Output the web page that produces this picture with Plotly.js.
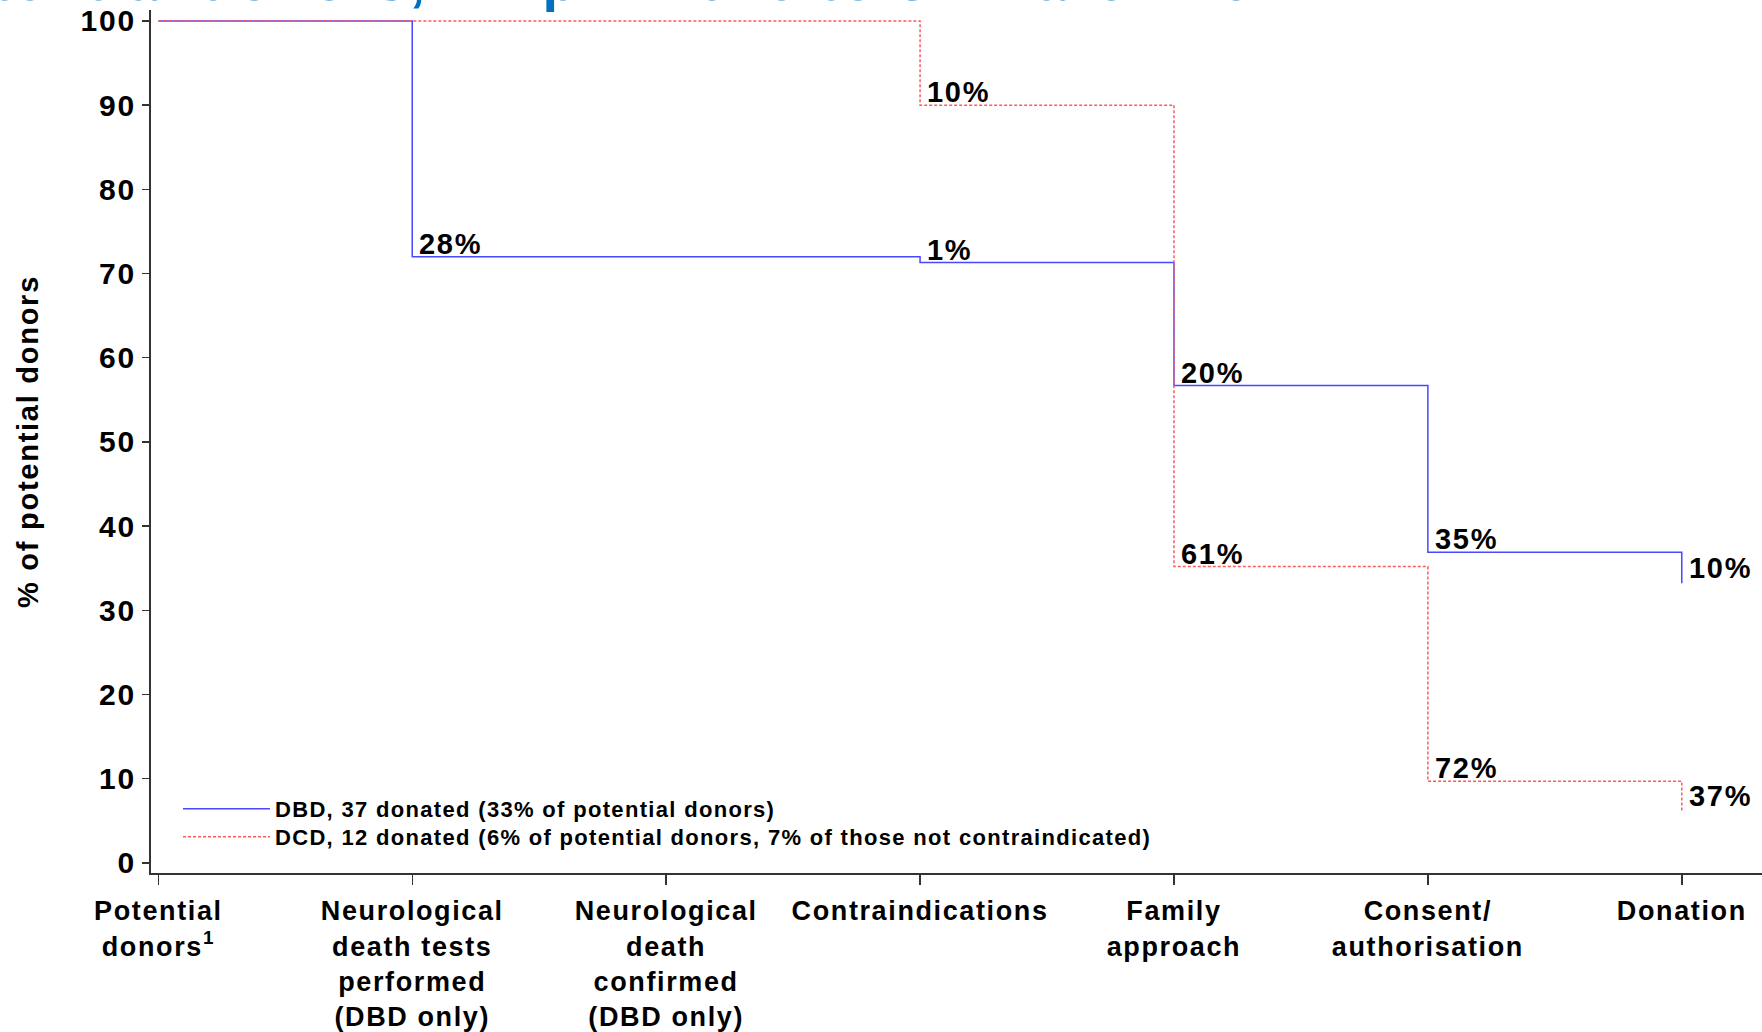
<!DOCTYPE html>
<html>
<head>
<meta charset="utf-8">
<script src="https://cdn.plot.ly/plotly-3.0.1.min.js"></script>
<style>
html,body{margin:0;padding:0;background:#fff;}
#chart{width:1762px;height:1032px;}
svg text{letter-spacing:0.06em;}
</style>
</head>
<body>
<div id="chart"></div>
<script>
// ---- data ----
const stages = ["Potential<br>donors<sup>1</sup>", "Neurological<br>death tests<br>performed<br>(DBD only)",
  "Neurological<br>death<br>confirmed<br>(DBD only)", "Contraindications", "Family<br>approach",
  "Consent/<br>authorisation", "Donation"];
const stageIndex = [0, 1, 2, 3, 4, 5, 6];
const dbdValues = [100, 72, 72, 71.3, 56.7, 36.9, 33.2];
const dcdValues = [100, 100, 100, 90, 35.2, 9.7, 6.2];
const dbdDropLabels = ["", "28%", "", "1%", "20%", "35%", "10%"];
const dcdDropLabels = ["", "", "", "10%", "61%", "72%", "37%"];
const seriesNames = ["DBD, 37 donated (33% of potential donors)",
  "DCD, 12 donated (6% of potential donors, 7% of those not contraindicated)"];
const yTicks = [0, 10, 20, 30, 40, 50, 60, 70, 80, 90, 100];
const titleText = "Potential donors, 1 April 2016 to 31 March 2017";

const FONT = "Liberation Sans, Arial, sans-serif";
const W = 1762, H = 1032, L = 151, R = 0, T = 10, B = 159;
const PW = W - L - R, PH = H - T - B;

const traces = [
  {x: stageIndex, y: dbdValues, type: "scatter", mode: "lines", name: seriesNames[0], legend: "legend",
   line: {shape: "hv", color: "#4848FF", width: 1.5}},
  {x: stageIndex, y: dcdValues, type: "scatter", mode: "lines", name: seriesNames[1], legend: "legend2",
   line: {shape: "hv", color: "#FF5A5A", width: 1.5, dash: "3px,2px"}}
];

const annotations = [];
function addLabels(values, labels) {
  for (let i = 1; i < values.length; i++) {
    if (!labels[i]) continue;
    const last = i === values.length - 1;
    annotations.push({
      x: stageIndex[i], y: last ? (values[i - 1] + values[i]) / 2 : values[i],
      xref: "x", yref: "y", text: labels[i], showarrow: false,
      xanchor: "left", yanchor: last ? "middle" : "bottom",
      xshift: 5, yshift: last ? 0 : -5,
      font: {family: FONT, size: 29, color: "#000", weight: "bold"}
    });
  }
}
addLabels(dbdValues, dbdDropLabels);
addLabels(dcdValues, dcdDropLabels);

annotations.push({
  xref: "paper", yref: "paper", x: (1326 - L) / PW, y: 1,
  xanchor: "right", yanchor: "bottom", yshift: -4, showarrow: false,
  text: titleText, font: {family: FONT, size: 56, color: "#0070C0", weight: "bold"}
});

const legendFont = {family: FONT, size: 22, color: "#000", weight: "bold"};
const legendBase = {xanchor: "left", yanchor: "top", bgcolor: "rgba(0,0,0,0)",
  itemwidth: 87, font: legendFont};

const layout = {
  width: W, height: H,
  margin: {l: L, r: R, t: T, b: B, pad: 0},
  paper_bgcolor: "#fff", plot_bgcolor: "#fff",
  font: {family: FONT, size: 27, color: "#000", weight: "bold"},
  showlegend: true,
  legend: Object.assign({}, legendBase, {x: (178 - L) / PW, y: (873 - 788) / PH}),
  legend2: Object.assign({}, legendBase, {x: (178 - L) / PW, y: (873 - 816) / PH}),
  xaxis: {
    range: [-0.029, 6.316], tickmode: "array", tickvals: stageIndex, ticktext: stages,
    showline: true, linecolor: "#333", linewidth: 2, mirror: false,
    ticks: "outside", ticklen: 10, tickwidth: 1.5, tickcolor: "#333",
    ticklabelstandoff: 3,
    showgrid: false, zeroline: false,
    tickfont: {family: FONT, size: 27, color: "#000", weight: "bold"}
  },
  yaxis: {
    range: [-1.2, 101.3], tickmode: "array", tickvals: yTicks,
    showline: true, linecolor: "#333", linewidth: 2,
    ticks: "outside", ticklen: 7, tickwidth: 1.5, tickcolor: "#333",
    showgrid: false, zeroline: false,
    tickfont: {family: FONT, size: 30, color: "#000", weight: "bold"},
    title: {text: "% of potential donors", standoff: 33,
      font: {family: FONT, size: 29, color: "#000", weight: "bold"}}
  },
  annotations: annotations
};

Plotly.newPlot("chart", traces, layout, {displayModeBar: false, staticPlot: true});
</script>
</body>
</html>
